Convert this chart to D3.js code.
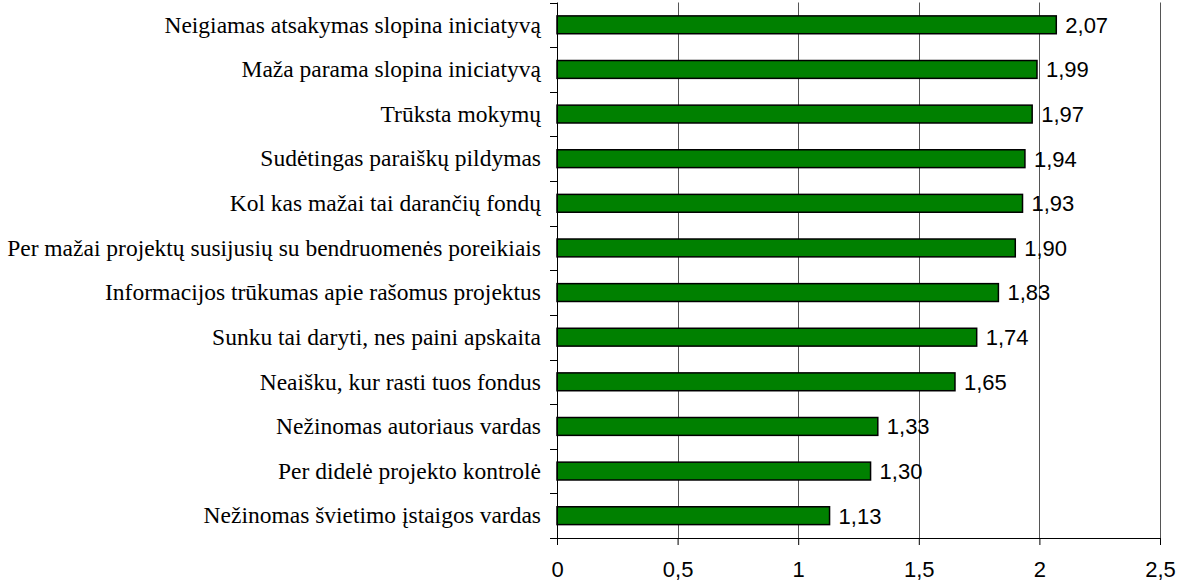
<!DOCTYPE html>
<html>
<head>
<meta charset="utf-8">
<script src="https://cdn.jsdelivr.net/npm/d3@7"></script>
<style>
  body { margin: 0; background: #fff; }
  svg { display: block; }
</style>
</head>
<body>
<div id="chart"></div>
<script>
// categories top to bottom
const categories = [
    "Neigiamas atsakymas slopina iniciatyvą",
    "Maža parama slopina iniciatyvą",
    "Trūksta mokymų",
    "Sudėtingas paraiškų pildymas",
    "Kol kas mažai tai darančių fondų",
    "Per mažai projektų susijusių su bendruomenės poreikiais",
    "Informacijos trūkumas apie rašomus projektus",
    "Sunku tai daryti, nes paini apskaita",
    "Neaišku, kur rasti tuos fondus",
    "Nežinomas autoriaus vardas",
    "Per didelė projekto kontrolė",
    "Nežinomas švietimo įstaigos vardas"
];
const values = [2.07, 1.99, 1.97, 1.94, 1.93, 1.90, 1.83, 1.74, 1.65, 1.33, 1.30, 1.13];
const xTicks = [0, 0.5, 1, 1.5, 2, 2.5];

const width = 1178;
const height = 582;
const plotLeft = 557, plotRight = 1160, plotTop = 2.5, plotBottom = 538;

const fmt = d => d3.format(".2f")(d).replace(".", ",");
const tickFmt = d => String(d).replace(".", ",");

const svg = d3.select("#chart")
    .append("svg")
    .attr("width", width)
    .attr("height", height);

// scales
const xScale = d3.scaleLinear().domain([0, 2.5]).range([plotLeft, plotRight]);
const yScale = d3.scaleBand().domain(categories).range([plotTop, plotBottom]).paddingInner(0.6).paddingOuter(0.3);
const yOuter = d3.scaleBand().domain(categories).range([plotTop, plotBottom]);

// vertical gridlines
svg.append("g")
    .selectAll("line")
    .data(xTicks.slice(1))
    .enter()
    .append("line")
    .attr("x1", d => Math.round(xScale(d)) + 0.5)
    .attr("x2", d => Math.round(xScale(d)) + 0.5)
    .attr("y1", plotTop)
    .attr("y2", plotBottom)
    .attr("stroke", "#555")
    .attr("stroke-width", 1);

// bars
svg.append("g")
    .selectAll("rect")
    .data(values)
    .enter()
    .append("rect")
    .attr("x", xScale(0))
    .attr("y", (d, i) => yScale(categories[i]))
    .attr("width", d => xScale(d) - xScale(0))
    .attr("height", yScale.bandwidth())
    .attr("fill", "#008000")
    .attr("stroke", "#000")
    .attr("stroke-width", 1.5);

// value labels
svg.append("g")
    .selectAll("text")
    .data(values)
    .enter()
    .append("text")
    .attr("x", d => xScale(d) + 9)
    .attr("y", (d, i) => yScale(categories[i]) + yScale.bandwidth() / 2)
    .attr("dy", "0.36em")
    .style("font-family", "'Liberation Sans', Arial, sans-serif")
    .style("font-size", "22px")
    .attr("fill", "#000")
    .text(fmt);

// x axis
const xAxis = d3.axisBottom(xScale).tickValues(xTicks).tickFormat(tickFmt).tickSize(7).tickPadding(16);
const xAxisGroup = svg.append("g")
    .attr("transform", `translate(0, ${plotBottom})`)
    .call(xAxis);
xAxisGroup.select(".domain").attr("stroke", "#000");
xAxisGroup.selectAll("text")
    .style("font-family", "'Liberation Sans', Arial, sans-serif")
    .style("font-size", "22px")
    .attr("fill", "#000");

// y axis with ticks at category boundaries
const yAxisGroup = svg.append("g");
yAxisGroup.append("line")
    .attr("x1", plotLeft + 0.5).attr("x2", plotLeft + 0.5)
    .attr("y1", plotTop).attr("y2", plotBottom)
    .attr("stroke", "#000");
const boundaries = categories.map(c => yOuter(c)).concat([plotBottom]);
yAxisGroup.selectAll(".ytick")
    .data(boundaries)
    .enter()
    .append("line")
    .attr("class", "ytick")
    .attr("x1", plotLeft - 7).attr("x2", plotLeft)
    .attr("y1", d => Math.round(d) + 0.5)
    .attr("y2", d => Math.round(d) + 0.5)
    .attr("stroke", "#000");

// category labels
svg.append("g")
    .selectAll("text")
    .data(categories)
    .enter()
    .append("text")
    .attr("x", 541)
    .attr("y", d => yOuter(d) + yOuter.bandwidth() / 2)
    .attr("dy", "0.33em")
    .attr("text-anchor", "end")
    .style("font-family", "'Liberation Serif', 'Times New Roman', serif")
    .style("font-size", "23.5px")
    .attr("fill", "#000")
    .text(d => d);
</script>
</body>
</html>
